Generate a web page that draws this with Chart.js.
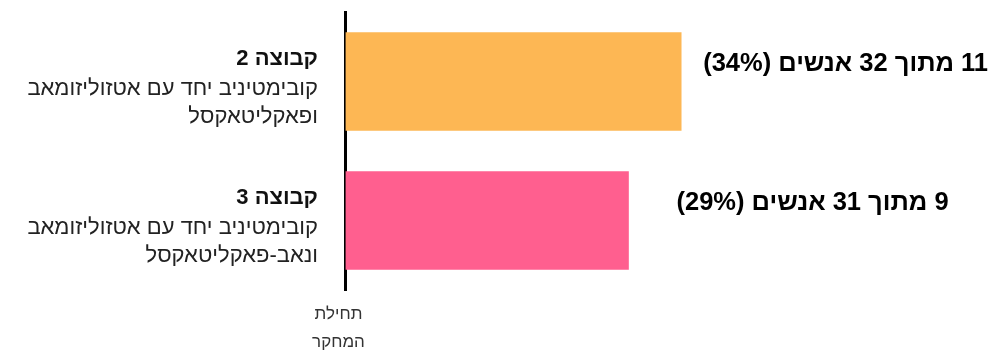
<!DOCTYPE html>
<html>
<head>
<meta charset="utf-8">
<script src="https://cdn.jsdelivr.net/npm/chart.js@4.4.1/dist/chart.umd.min.js"></script>
<style>
html,body{margin:0;padding:0;background:#fff;}
#wrap{width:1001px;height:352px;position:relative;}
</style>
</head>
<body>
<div id="wrap"><canvas id="c"></canvas></div>
<script>
const categories = ['קבוצה 2', 'קבוצה 3'];
const groupTitles = ['קבוצה 2', 'קבוצה 3'];
const groupLines = [
  ['קובימטיניב יחד עם אטזוליזומאב', 'ופאקליטאקסל'],
  ['קובימטיניב יחד עם אטזוליזומאב', 'ונאב-פאקליטאקסל']
];
const percentValues = [34.4, 29.0];
const valueLabels = ['11 מתוך 32 אנשים (34%)', '9 מתוך 31 אנשים (29%)'];
const barColors = ['#FDB754', '#FF5F8F'];
const startLabel = ['תחילת', 'המחקר'];

const FONT = "'Liberation Sans', Arial, sans-serif";

const labelPlugin = {
  id: 'labelPlugin',
  afterDatasetsDraw(chart, args, opts) {
    const ctx = chart.ctx;
    const yScale = chart.scales.y;
    const meta = chart.getDatasetMeta(0);
    ctx.save();
    ctx.direction = 'rtl';
    ctx.textBaseline = 'middle';
    categories.forEach((c, i) => {
      const cy = yScale.getPixelForValue(i);
      ctx.textAlign = 'right';
      ctx.fillStyle = '#111';
      ctx.font = 'bold 22px ' + FONT;
      const rx = 318;
      ctx.fillText(groupTitles[i], rx, cy - 23);
      ctx.fillStyle = '#222';
      ctx.font = '22px ' + FONT;
      groupLines[i].forEach((ln, j) => {
        ctx.fillText(ln, rx, cy + 7 + j * 28);
      });
      const bar = meta.data[i];
      ctx.fillStyle = '#000';
      ctx.font = 'bold 25.5px ' + FONT;
      ctx.textAlign = 'left';
      ctx.fillText(valueLabels[i], bar.x + opts.gaps[i], cy - 18);
    });
    ctx.restore();
  }
};

new Chart(document.getElementById('c'), {
  type: 'bar',
  data: {
    labels: categories,
    datasets: [{
      data: percentValues,
      backgroundColor: barColors,
      borderWidth: 0,
      barThickness: 98
    }]
  },
  plugins: [labelPlugin],
  options: {
    indexAxis: 'y',
    responsive: true,
    maintainAspectRatio: false,
    animation: false,
    layout: { padding: { left: 345.5, top: 12, right: 70, bottom: 0 } },
    plugins: {
      legend: { display: false },
      tooltip: { enabled: false },
      labelPlugin: { gaps: [22, 48] }
    },
    scales: {
      x: {
        min: 0,
        max: 60,
        grid: { display: false, drawTicks: false },
        border: { display: false },
        afterBuildTicks(scale) { scale.ticks = [{ value: 0 }]; },
        afterFit(scale) { scale.height = 62; },
        ticks: {
          padding: 10,
          labelOffset: -7,
          color: '#333',
          font: { family: FONT, size: 17, lineHeight: 1.65 },
          callback: (v) => v === 0 ? startLabel : ''
        }
      },
      y: {
        z: 1,
        grid: { display: false, drawTicks: false },
        border: { display: true, color: '#000', width: 3 },
        ticks: { display: false },
        afterFit(scale) { scale.width = 0; }
      }
    }
  }
});
</script>
</body>
</html>
